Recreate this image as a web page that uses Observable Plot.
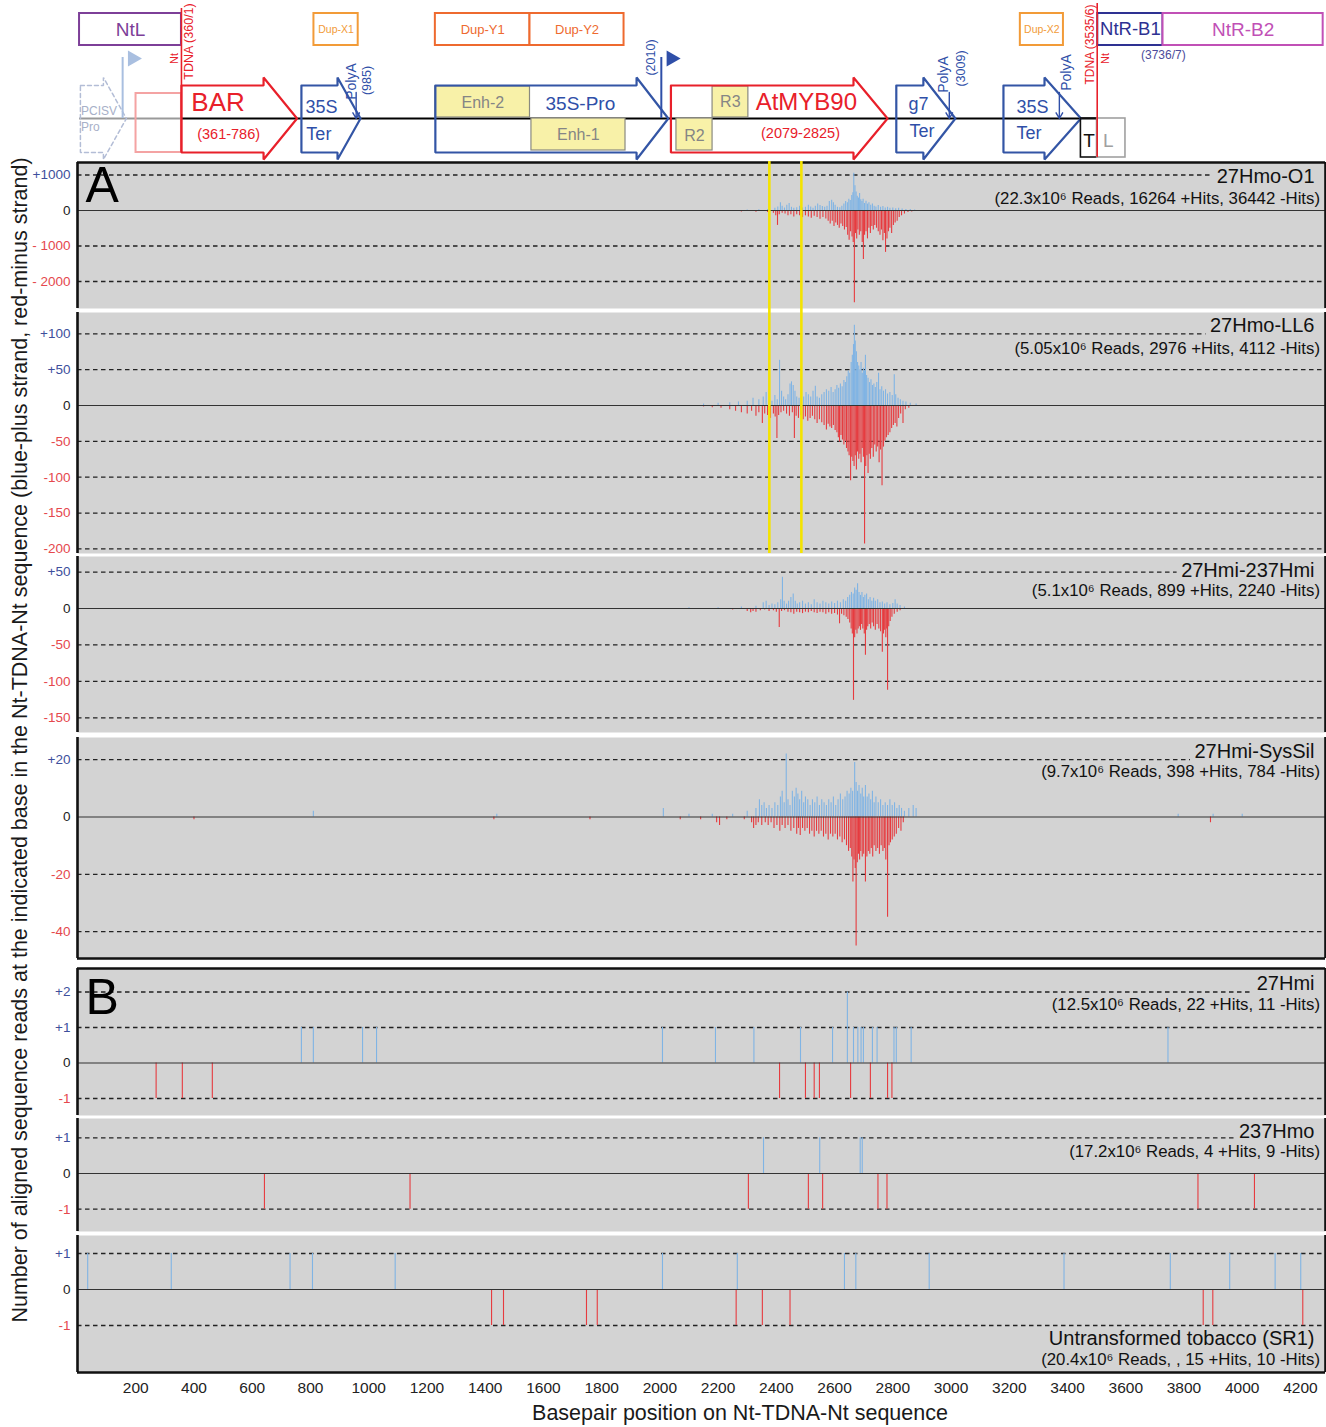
<!DOCTYPE html>
<html><head><meta charset="utf-8">
<script src="https://cdn.jsdelivr.net/npm/d3@7"></script>
<script src="https://cdn.jsdelivr.net/npm/@observablehq/plot@0.6"></script>
<style>
body{margin:0;background:#fff;font-family:'Liberation Sans',Arial,Helvetica,sans-serif;}
#wrap{position:relative;width:1326px;height:1427px;overflow:hidden;background:#fff;}
.axt{position:absolute;white-space:nowrap;font-size:21.5px;color:#1a1a1a;transform:translate(-50%,-50%);}
</style></head><body><div id="wrap"></div>
<script>
// ---------------- DATA ----------------
const xTicks = [200,400,600,800,1000,1200,1400,1600,1800,2000,2200,2400,2600,2800,3000,3200,3400,3600,3800,4000,4200];
const yellowMarks = [2376, 2486];

// Panel A, 27Hmo-O1  [bp, reads]
const p1Plus = [[2300,15],[2340,20],[2370,30],[2395,60],[2405,100],[2414,220],[2420,120],[2428,70],[2436,150],[2444,200],[2452,90],[2460,60],[2470,80],[2480,120],[2490,70],[2500,90],[2510,150],[2518,100],[2526,60],[2534,120],[2542,180],[2550,140],[2558,110],[2566,90],[2574,120],[2582,250],[2590,290],[2596,220],[2602,150],[2610,90],[2618,80],[2625,120],[2632,180],[2638,250],[2644,220],[2649,320],[2654,280],[2659,420],[2663,500],[2666,1050],[2670,700],[2674,520],[2678,400],[2682,350],[2686,480],[2690,300],[2694,250],[2698,320],[2703,200],[2708,260],[2713,180],[2718,220],[2724,150],[2730,180],[2736,120],[2742,100],[2750,140],[2758,90],[2766,110],[2774,70],[2782,90],[2790,60],[2800,70],[2810,50],[2820,60],[2832,40],[2845,30],[2860,25],[2875,15]];
const p1Minus = [[2100,-20],[2200,-30],[2280,-40],[2330,-50],[2370,-60],[2390,-80],[2398,-150],[2404,-420],[2410,-120],[2420,-80],[2430,-100],[2440,-150],[2450,-120],[2460,-180],[2470,-120],[2480,-150],[2490,-200],[2500,-150],[2510,-180],[2520,-220],[2530,-160],[2540,-200],[2550,-250],[2560,-200],[2570,-240],[2578,-300],[2585,-380],[2592,-300],[2598,-450],[2604,-350],[2610,-420],[2616,-500],[2622,-380],[2628,-450],[2634,-550],[2640,-480],[2645,-700],[2650,-840],[2655,-600],[2660,-750],[2664,-900],[2668,-2600],[2672,-650],[2676,-800],[2680,-550],[2685,-700],[2690,-600],[2695,-900],[2699,-1380],[2703,-700],[2708,-600],[2713,-800],[2718,-500],[2723,-650],[2728,-450],[2733,-550],[2738,-420],[2744,-500],[2750,-600],[2756,-700],[2761,-550],[2766,-850],[2771,-650],[2775,-1180],[2780,-800],[2785,-600],[2790,-500],[2796,-650],[2802,-420],[2808,-350],[2815,-300],[2822,-200],[2830,-150],[2840,-100],[2852,-60],[2865,-40]];

// 27Hmo-LL6
const p2Plus = [[2150,2],[2200,3],[2240,4],[2270,5],[2300,6],[2320,10],[2340,8],[2355,12],[2365,18],[2375,10],[2385,6],[2395,14],[2403,8],[2411,63],[2418,20],[2425,12],[2432,8],[2440,15],[2447,30],[2452,33],[2458,28],[2464,20],[2470,12],[2478,10],[2486,14],[2494,12],[2502,18],[2510,15],[2518,12],[2526,20],[2534,27],[2540,12],[2548,10],[2556,15],[2564,18],[2572,22],[2580,20],[2588,25],[2595,18],[2602,22],[2608,28],[2614,24],[2620,30],[2626,26],[2632,35],[2637,32],[2642,40],[2647,48],[2652,45],[2657,60],[2661,70],[2665,85],[2668,112],[2671,90],[2675,75],[2679,60],[2683,55],[2687,50],[2691,60],[2695,45],[2699,52],[2703,48],[2706,70],[2710,42],[2715,38],[2720,32],[2725,36],[2730,28],[2735,30],[2740,25],[2745,32],[2751,45],[2756,22],[2762,26],[2768,20],[2775,22],[2782,16],[2790,18],[2798,14],[2805,43],[2810,15],[2818,10],[2826,8],[2835,6],[2845,5],[2860,3],[2880,2]];
const p2Minus = [[2150,-2],[2180,-3],[2210,-4],[2240,-6],[2260,-8],[2280,-10],[2300,-12],[2315,-8],[2330,-15],[2340,-10],[2352,-25],[2360,-12],[2370,-14],[2380,-18],[2390,-12],[2396,-16],[2402,-46],[2408,-14],[2416,-10],[2425,-8],[2435,-12],[2445,-15],[2455,-10],[2462,-46],[2468,-15],[2476,-18],[2484,-14],[2492,-20],[2500,-16],[2508,-22],[2516,-18],[2524,-15],[2532,-20],[2540,-25],[2548,-20],[2556,-24],[2564,-28],[2572,-34],[2578,-26],[2584,-30],[2590,-32],[2596,-28],[2602,-35],[2608,-38],[2613,-45],[2617,-51],[2622,-42],[2627,-48],[2632,-55],[2636,-50],[2641,-60],[2646,-65],[2650,-70],[2655,-105],[2659,-72],[2663,-78],[2667,-85],[2671,-70],[2675,-90],[2679,-65],[2683,-75],[2687,-68],[2691,-80],[2695,-60],[2699,-72],[2703,-193],[2707,-85],[2711,-70],[2715,-95],[2719,-68],[2723,-75],[2728,-60],[2733,-72],[2738,-55],[2743,-65],[2748,-58],[2753,-80],[2758,-62],[2763,-112],[2768,-58],[2773,-50],[2778,-45],[2784,-42],[2790,-38],[2796,-32],[2802,-28],[2808,-25],[2814,-30],[2820,-18],[2827,-12],[2835,-25],[2843,-6],[2855,-4]];

// 27Hmi-237Hmi
const p3Plus = [[2100,1],[2200,1],[2280,2],[2330,3],[2355,8],[2365,10],[2375,4],[2385,6],[2395,5],[2405,8],[2415,12],[2421,43],[2427,10],[2435,6],[2442,10],[2450,15],[2458,20],[2465,10],[2472,6],[2480,8],[2490,10],[2500,6],[2510,8],[2520,5],[2530,12],[2540,8],[2550,6],[2560,10],[2570,8],[2580,6],[2590,9],[2600,7],[2610,10],[2620,8],[2630,12],[2638,10],[2645,15],[2652,18],[2658,22],[2664,20],[2669,28],[2674,25],[2679,34],[2684,22],[2689,18],[2694,22],[2699,15],[2704,18],[2710,20],[2716,12],[2722,15],[2728,10],[2734,14],[2740,10],[2748,12],[2756,8],[2764,9],[2772,6],[2780,8],[2790,5],[2800,7],[2808,12],[2815,6],[2825,4],[2840,2]];
const p3Minus = [[2150,-1],[2250,-2],[2300,-4],[2312,-6],[2320,-4],[2330,-5],[2345,-3],[2360,-2],[2375,-4],[2390,-3],[2400,-5],[2410,-26],[2418,-4],[2428,-3],[2440,-5],[2450,-6],[2460,-8],[2470,-5],[2480,-6],[2490,-7],[2500,-5],[2510,-6],[2520,-4],[2530,-6],[2540,-7],[2550,-5],[2560,-6],[2570,-8],[2580,-6],[2590,-8],[2600,-7],[2610,-9],[2617,-21],[2624,-8],[2632,-10],[2640,-12],[2646,-15],[2652,-20],[2657,-28],[2661,-35],[2665,-126],[2669,-40],[2673,-30],[2677,-35],[2681,-28],[2685,-25],[2689,-30],[2693,-22],[2697,-28],[2702,-35],[2706,-64],[2710,-30],[2714,-25],[2719,-22],[2724,-28],[2729,-20],[2734,-25],[2740,-30],[2746,-22],[2752,-28],[2758,-32],[2764,-60],[2768,-35],[2772,-30],[2776,-40],[2779,-28],[2782,-112],[2786,-25],[2791,-18],[2797,-12],[2805,-8],[2815,-5],[2825,-3]];

// 27Hmi-SysSil
const p4Plus = [[810,2],[1440,1],[2012,3],[2100,1],[2180,1],[2250,1],[2300,2],[2330,3],[2342,6],[2350,4],[2358,5],[2366,3],[2375,4],[2385,3],[2395,5],[2405,4],[2414,7],[2420,9],[2427,5],[2434,22],[2440,6],[2447,4],[2455,9],[2462,7],[2468,10],[2474,8],[2480,6],[2487,9],[2494,5],[2500,7],[2508,6],[2516,4],[2524,6],[2532,5],[2540,7],[2548,4],[2556,6],[2564,5],[2572,4],[2580,6],[2588,5],[2596,7],[2604,4],[2612,6],[2620,8],[2628,6],[2636,7],[2643,9],[2650,8],[2656,10],[2662,9],[2669,19],[2674,12],[2679,9],[2684,11],[2690,8],[2695,10],[2700,7],[2706,11],[2712,7],[2718,8],[2724,6],[2730,9],[2736,5],[2742,7],[2750,5],[2758,6],[2766,4],[2774,5],[2782,4],[2790,6],[2798,4],[2806,5],[2814,3],[2822,4],[2830,3],[2840,2],[2855,3],[2870,4],[2880,3],[3780,1],[3900,1],[4000,1]];
const p4Minus = [[400,-1],[1430,-1],[1760,-1],[2070,-1],[2140,-1],[2195,-2],[2205,-3],[2230,-1],[2290,-1],[2315,-2],[2322,-4],[2330,-3],[2338,-2],[2350,-3],[2362,-2],[2372,-3],[2382,-2],[2392,-4],[2402,-3],[2412,-5],[2420,-3],[2430,-4],[2440,-3],[2450,-5],[2460,-4],[2470,-6],[2476,-4],[2482,-6.5],[2490,-4],[2498,-5],[2506,-4],[2514,-6],[2522,-5],[2530,-7],[2538,-5],[2546,-6],[2554,-5],[2562,-7],[2570,-6],[2578,-8],[2586,-6],[2594,-7],[2602,-6],[2610,-8],[2618,-7],[2626,-9],[2634,-8],[2641,-10],[2648,-12],[2654,-11],[2659,-14],[2663,-22.7],[2667,-15],[2671,-18],[2674,-45],[2678,-16],[2682,-13],[2686,-15],[2690,-12],[2695,-14],[2700,-13],[2706,-22.7],[2711,-14],[2716,-12],[2721,-13],[2726,-11],[2731,-14],[2736,-10],[2742,-12],[2748,-11],[2754,-13],[2760,-10],[2766,-12],[2771,-11],[2776,-15],[2782,-35],[2787,-10],[2792,-9],[2798,-8],[2805,-7],[2812,-6],[2820,-4],[2828,-5],[2836,-2],[3891,-2]];

// Panel B
const p5Plus = [[769,1],[810,1],[979,1],[1027,1],[2009,1],[2191,1],[2323,1],[2483,1],[2593,1],[2644,2],[2665,1],[2680,1],[2691,1],[2699,1],[2730,1],[2746,1],[2804,1],[2812,1],[2863,1],[3745,1]];
const p5Minus = [[270,-1],[360,-1],[463,-1],[2411,-1],[2500,-1],[2530,-1],[2548,-1],[2655,-1],[2723,-1],[2782,-1],[2797,-1]];
const p6Plus = [[2356,1],[2549,1],[2688,1],[2695,1]];
const p6Minus = [[642,-1],[1142,-1],[2304,-1],[2510,-1],[2559,-1],[2749,-1],[2780,-1],[3848,-1],[4042,-1]];
const p7Plus = [[35,1],[322,1],[730,1],[807,1],[1091,1],[2009,1],[2266,1],[2634,1],[2673,1],[2925,1],[3388,1],[3753,1],[3957,1],[4113,1],[4201,1]];
const p7Minus = [[1422,-1],[1463,-1],[1748,-1],[1785,-1],[2262,-1],[2352,-1],[2447,-1],[3866,-1],[3899,-1],[4208,-1]];

const panelTicks = {
  p1: [[1000,"+1000"],[0,"0"],[-1000,"- 1000"],[-2000,"- 2000"]],
  p2: [[100,"+100"],[50,"+50"],[0,"0"],[-50,"-50"],[-100,"-100"],[-150,"-150"],[-200,"-200"]],
  p3: [[50,"+50"],[0,"0"],[-50,"-50"],[-100,"-100"],[-150,"-150"]],
  p4: [[20,"+20"],[0,"0"],[-20,"-20"],[-40,"-40"]],
  p5: [[2,"+2"],[1,"+1"],[0,"0"],[-1,"-1"]],
  p6: [[1,"+1"],[0,"0"],[-1,"-1"]],
  p7: [[1,"+1"],[0,"0"],[-1,"-1"]]
};
const panelTitles = {
  p1: ["27Hmo-O1","(22.3x10\u2076 Reads, 16264 +Hits, 36442 -Hits)"],
  p2: ["27Hmo-LL6","(5.05x10\u2076 Reads, 2976 +Hits, 4112 -Hits)"],
  p3: ["27Hmi-237Hmi","(5.1x10\u2076 Reads, 899 +Hits, 2240 -Hits)"],
  p4: ["27Hmi-SysSil","(9.7x10\u2076 Reads, 398 +Hits, 784 -Hits)"],
  p5: ["27Hmi","(12.5x10\u2076 Reads, 22 +Hits, 11 -Hits)"],
  p6: ["237Hmo","(17.2x10\u2076 Reads, 4 +Hits, 9 -Hits)"],
  p7: ["Untransformed tobacco (SR1)","(20.4x10\u2076 Reads, , 15 +Hits, 10 -Hits)"]
};

// Gene map (bp positions)
const mapBoxes = [
  {name:"NtL", start:7, end:357, col:"#7d3f98", size:19},
  {name:"Dup-X1", start:812, end:964, col:"#f29b38", size:10.5},
  {name:"Dup-Y1", start:1229, end:1554, col:"#ee6a2f", size:13},
  {name:"Dup-Y2", start:1554, end:1877, col:"#ee6a2f", size:13},
  {name:"Dup-X2", start:3238, end:3386, col:"#f29b38", size:10.5},
  {name:"NtR-B1", start:3504, end:3728, col:"#2e3192", size:18.5},
  {name:"NtR-B2", start:3728, end:4278, col:"#c150b6", size:19}
];
const mapArrows = [
  {id:"pcisv", start:10, end:168, head:89, col:"#b3bdd6", dash:true},
  {id:"bar", start:357, end:754, head:639, col:"#e8202a"},
  {id:"ter1", start:769, end:972, head:893, col:"#3355a5"},
  {id:"pro", start:1229, end:2029, head:1920, col:"#3355a5"},
  {id:"myb", start:2038, end:2782, head:2665, col:"#e8202a"},
  {id:"g7", start:2812, end:3015, head:2905, col:"#3355a5"},
  {id:"ter2", start:3180, end:3446, head:3321, col:"#3355a5"}
];
const mapYellow = [
  {name:"Enh-2", start:1229, end:1554, row:"up"},
  {name:"Enh-1", start:1559, end:1882, row:"down"},
  {name:"R3", start:2181, end:2304, row:"up"},
  {name:"R2", start:2057, end:2181, row:"down"}
];
const polyA = [957, 2994, 3372];
const tdnaBorders = [357, 3502];
const promoters = [{at:155, col:"#a9bfe0"},{at:2005, col:"#2f4fa8"}];

// ---------------- LAYOUT ----------------
const FONT = "'Liberation Sans', Arial, Helvetica, sans-serif";
const W = 1326, ML = 77, MR = 1;
const XD = [0, 4286];
const BG = "#d3d3d3", BLUE = "#80b4e4", RED = "#e63b3f";
const TBLUE = "#3d4f9c", TRED = "#e5484d";
const TS = 20, SS = 16.8;
const wrap = document.getElementById("wrap");
function place(node, top){ node.style.position="absolute"; node.style.left="0px"; node.style.top=top+"px"; wrap.appendChild(node); }
const pxPerBp = (W - MR - ML) / (XD[1] - XD[0]);
const bpAt = px => XD[0] + (px - ML) / pxPerBp;
const ctx = document.createElement("canvas").getContext("2d");
function textW(t, size){ ctx.font = size + "px 'Liberation Sans', Arial, sans-serif"; return ctx.measureText(t).width; }

const cfgs = [
  {key:"p1", top:162, bottom:308, yd:[-2761,1352], plus:p1Plus, minus:p1Minus, tDy:[14.5,36], topB:true, letter:["A",23]},
  {key:"p2", top:312, bottom:553, yd:[-206.4,129.7], plus:p2Plus, minus:p2Minus, tDy:[13.5,36]},
  {key:"p3", top:556, bottom:732, yd:[-170.1,71.3], plus:p3Plus, minus:p3Minus, tDy:[14,34]},
  {key:"p4", top:737, bottom:958, yd:[-49.39,27.75], plus:p4Plus, minus:p4Minus, tDy:[14.5,34.5], botB:true},
  {key:"p5", top:968, bottom:1115, yd:[-1.479,2.662], plus:p5Plus, minus:p5Minus, tDy:[15.3,36], topB:true, letter:["B",29]},
  {key:"p6", top:1118, bottom:1231, yd:[-1.625,1.541], plus:p6Plus, minus:p6Minus, tDy:[13.5,33.5]},
  {key:"p7", top:1235, bottom:1372, yd:[-2.306,1.5], plus:p7Plus, minus:p7Minus, tDy:[-33.5,-13], botB:true, axis:true, titleBottom:true}
];

for (const c of cfgs){
  const ticks = panelTicks[c.key];
  const [title, sub] = panelTitles[c.key];
  const mb = c.axis ? 45 : 0;
  const anchor = c.titleBottom ? "bottom-right" : "top-right";
  const H = c.bottom - c.top;
  const tickPx = t => (c.yd[1] - t) / (c.yd[1] - c.yd[0]) * H;
  const base = c.titleBottom ? H : 0;
  const covers = [];
  [[title,TS,-11,c.tDy[0]],[sub,SS,-5.5,c.tDy[1]]].forEach(([t,size,dx,dy]) => {
    const cy = base + dy, half = size * 0.55;
    const x1 = bpAt(W - MR + dx - textW(t, size) - 4);
    ticks.filter(tk => tk[0] !== 0 && Math.abs(tickPx(tk[0]) - cy) < half).forEach(tk => covers.push({y: tk[0], x1}));
  });
  const marks = [
    Plot.frame({fill:BG, stroke:null}),
    Plot.ruleY(ticks.filter(t=>t[0]!==0), {y:d=>d[0], stroke:"#222", strokeWidth:1.3, strokeDasharray:"4.5,3.5"}),
    Plot.ruleY(covers, {y:"y", x1:"x1", x2:()=>XD[1], stroke:BG, strokeWidth:4}),
    Plot.ruleX(c.plus, {x:d=>d[0], y:d=>d[1], stroke:BLUE, strokeWidth:1.1}),
    Plot.ruleX(c.minus, {x:d=>d[0], y:d=>d[1], stroke:RED, strokeWidth:1.1}),
    Plot.ruleY([0], {stroke:"#333", strokeWidth:1.2}),
    Plot.ruleX([XD[0]], {stroke:"#111", strokeWidth:2.6}),
    Plot.ruleX([XD[1]], {stroke:"#111", strokeWidth:2.6}),
    Plot.text(ticks.filter(t=>t[0]>0), {y:d=>d[0], text:d=>d[1], frameAnchor:"left", textAnchor:"end", dx:-7, fill:TBLUE, fontSize:13.5}),
    Plot.text(ticks.filter(t=>t[0]===0), {y:d=>d[0], text:d=>d[1], frameAnchor:"left", textAnchor:"end", dx:-7, fill:"#222", fontSize:13.5}),
    Plot.text(ticks.filter(t=>t[0]<0), {y:d=>d[0], text:d=>d[1], frameAnchor:"left", textAnchor:"end", dx:-7, fill:TRED, fontSize:13.5}),
    Plot.text([title], {frameAnchor:anchor, textAnchor:"end", lineAnchor:"middle", dx:-11, dy:c.tDy[0], fontSize:TS, fill:"#111"}),
    Plot.text([sub], {frameAnchor:anchor, textAnchor:"end", lineAnchor:"middle", dx:-5.5, dy:c.tDy[1], fontSize:SS, fill:"#111"})
  ];
  if (c.topB) marks.push(Plot.ruleY([c.yd[1]], {stroke:"#111", strokeWidth:2.6}));
  if (c.botB) marks.push(Plot.ruleY([c.yd[0]], {stroke:"#111", strokeWidth:2.6}));
  if (c.letter) marks.push(Plot.text([c.letter[0]], {frameAnchor:"top-left", textAnchor:"start", lineAnchor:"middle", dx:8, dy:c.letter[1], fontSize:50, fill:"#000"}));
  if (c.axis) marks.push(Plot.axisX({ticks:xTicks, tickSize:0, tickPadding:9, fontSize:15.5, label:null, fill:"#222", tickFormat:d=>String(d)}));
  const p = Plot.plot({
    width: W, height: H + mb,
    marginLeft: ML, marginRight: MR, marginTop: 0, marginBottom: mb,
    x: {domain: XD, axis: null},
    y: {domain: c.yd, axis: null},
    style: {fontFamily: FONT, background: "transparent", overflow: "visible"},
    marks
  });
  place(p, c.top);
}

// yellow marker overlay across first two panels
{
  const p = Plot.plot({
    width: W, height: 392, marginLeft: ML, marginRight: MR, marginTop: 0, marginBottom: 0,
    x: {domain: XD, axis: null}, y: {domain:[0,1], axis:null},
    style: {background:"transparent", overflow:"visible"},
    marks: [Plot.ruleX(yellowMarks, {stroke:"#f4e300", strokeWidth:2.6})]
  });
  p.style.pointerEvents = "none";
  place(p, 161);
}

// gene map
{
  const BT=85, BB=152, FT=77, FB=159, MID=118;
  const pts = a => [[a.start,BT],[a.head,BT],[a.head,FT],[a.end,MID],[a.head,FB],[a.head,BB],[a.start,BB],[a.start,BT]].map(p=>({x:p[0], y:p[1]}));
  const marks = [];
  marks.push(Plot.ruleY([MID], {x1:()=>mapBoxes[0].start, x2:()=>tdnaBorders[0], stroke:"#999", strokeWidth:2}));
  marks.push(Plot.ruleY([MID], {x1:()=>tdnaBorders[0], x2:()=>tdnaBorders[1], stroke:"#000", strokeWidth:2.2}));
  marks.push(Plot.rect(mapBoxes, {x1:"start", x2:"end", y1:()=>13, y2:()=>45, stroke:"col", strokeWidth:2, fill:"white"}));
  marks.push(Plot.text(mapBoxes, {x:d=>(d.start+d.end)/2, y:()=>29, text:"name", fill:"col", fontSize:d=>d.size}));
  marks.push(Plot.rect([{a:201,b:357}], {x1:"a", x2:"b", y1:()=>93, y2:()=>152, stroke:"#f4a3a3", strokeWidth:2, fill:"none"}));
  marks.push(Plot.rect(mapYellow, {x1:"start", x2:"end", y1:d=>d.row==="up"?86:118, y2:d=>d.row==="up"?117:150, fill:"#f8f1a8", stroke:"#8a8a80", strokeWidth:1.2}));
  for (const a of mapArrows){
    marks.push(Plot.line(pts(a), {x:"x", y:"y", stroke:a.col, strokeWidth:a.dash?1.5:2.2, strokeDasharray:a.dash?"4,3":null, strokeLinejoin:"miter"}));
  }
  marks.push(Plot.rect([{a:3446,b:3502}], {x1:"a", x2:"b", y1:()=>118, y2:()=>157, stroke:"#111", strokeWidth:1.6, fill:"none"}));
  marks.push(Plot.rect([{a:3502,b:3599}], {x1:"a", x2:"b", y1:()=>118, y2:()=>157, stroke:"#a0a0a0", strokeWidth:1.6, fill:"none"}));
  marks.push(Plot.ruleX([tdnaBorders[0]], {y1:()=>8, y2:()=>152, stroke:"#e8202a", strokeWidth:1.6}));
  marks.push(Plot.ruleX([tdnaBorders[1]], {y1:()=>3, y2:()=>157, stroke:"#e8202a", strokeWidth:1.6}));
  marks.push(Plot.arrow(polyA, {x1:d=>d, x2:d=>d, y1:()=>92, y2:()=>118, stroke:"#2f4fa8", strokeWidth:1.4, headLength:7}));
  marks.push(Plot.ruleX(promoters, {x:"at", y1:()=>118, y2:()=>57, stroke:"col", strokeWidth:2}));
  marks.push(Plot.dot(promoters, {x:"at", y:()=>58, dx:10, symbol:"triangle", r:6, rotate:90, fill:"col", stroke:null}));
  const L = (text, x, y, size, fill, extra={}) => Plot.text([text], {x:()=>x, y:()=>y, fontSize:size, fill, ...extra});
  marks.push(L("PCISV", 12, 111, 12, "#a7b0c8", {textAnchor:"start"}));
  marks.push(L("Pro", 12, 127, 12, "#a7b0c8", {textAnchor:"start"}));
  marks.push(L("BAR", 391, 102, 26, "#e8202a", {textAnchor:"start"}));
  marks.push(L("(361-786)", 519, 134, 14.5, "#e8202a"));
  marks.push(L("35S", 783, 107, 18, "#2f4fa8", {textAnchor:"start"}));
  marks.push(L("Ter", 786, 134, 18, "#2f4fa8", {textAnchor:"start"}));
  marks.push(L("Enh-2", 1392, 102, 16, "#858585"));
  marks.push(L("35S-Pro", 1727, 103, 19, "#2f4fa8"));
  marks.push(L("Enh-1", 1720, 134, 16, "#858585"));
  marks.push(L("R3", 2242, 101, 16, "#858585"));
  marks.push(L("R2", 2119, 135, 16, "#858585"));
  marks.push(L("AtMYB90", 2503, 102, 24, "#e8202a"));
  marks.push(L("(2079-2825)", 2483, 133, 14.5, "#e8202a"));
  marks.push(L("g7", 2854, 104, 18, "#2f4fa8", {textAnchor:"start"}));
  marks.push(L("Ter", 2857, 131, 18, "#2f4fa8", {textAnchor:"start"}));
  marks.push(L("35S", 3225, 107, 18, "#2f4fa8", {textAnchor:"start"}));
  marks.push(L("Ter", 3225, 133, 18, "#2f4fa8", {textAnchor:"start"}));
  marks.push(L("T", 3474, 140, 19, "#111"));
  marks.push(L("L", 3540, 140, 19, "#a0a0a0"));
  marks.push(L("(3736/7)", 3729, 55, 12, "#4b4b9b"));
  const R = (text, x, y, size, fill) => Plot.text([text], {x:()=>x, y:()=>y, fontSize:size, fill, rotate:-90});
  marks.push(R("Nt", 333, 58, 11, "#e8202a"));
  marks.push(R("TDNA (360/1)", 384, 41, 12.5, "#e8202a"));
  marks.push(R("TDNA (3535/6)", 3478, 44, 12, "#e8202a"));
  marks.push(R("Nt", 3530, 58, 11, "#e8202a"));
  marks.push(R("PolyA", 940, 81, 14, "#2f4fa8"));
  marks.push(R("(985)", 995, 80, 12.5, "#2f4fa8"));
  marks.push(R("PolyA", 2975, 74, 14, "#2f4fa8"));
  marks.push(R("(3009)", 3034, 68, 12.5, "#2f4fa8"));
  marks.push(R("PolyA", 3396, 72, 14, "#2f4fa8"));
  marks.push(R("(2010)", 1968, 57, 12.5, "#2f4fa8"));
  const p = Plot.plot({
    width: W, height: 160, marginLeft: ML, marginRight: MR, marginTop: 0, marginBottom: 0,
    x: {domain: XD, axis: null}, y: {domain:[0,160], range:[0,160], axis:null},
    color: {type:"identity"},
    style: {fontFamily: FONT, background:"transparent", overflow:"visible"},
    marks
  });
  place(p, 0);
}

// axis titles
{
  const yt = document.createElement("div");
  yt.className = "axt";
  yt.textContent = "Number of aligned sequence reads at the indicated base in the Nt-TDNA-Nt sequence (blue-plus strand, red-minus strand)";
  yt.style.left = "20px"; yt.style.top = "740px";
  yt.style.transform = "translate(-50%,-50%) rotate(-90deg)";
  wrap.appendChild(yt);
  const xt = document.createElement("div");
  xt.className = "axt";
  xt.textContent = "Basepair position on Nt-TDNA-Nt sequence";
  xt.style.left = "740px"; xt.style.top = "1413px";
  wrap.appendChild(xt);
}
</script></body></html>
